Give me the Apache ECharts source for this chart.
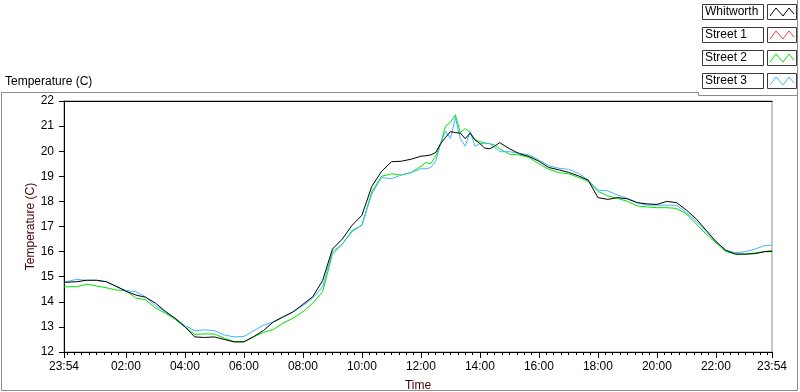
<!DOCTYPE html>
<html>
<head>
<meta charset="utf-8">
<script src="https://cdn.jsdelivr.net/npm/echarts@6/dist/echarts.min.js"></script>
<style>
html, body { margin: 0; padding: 0; background: #fff; }
#chart { width: 800px; height: 392px; }
</style>
</head>
<body>
<div id="chart"></div>
<script>
// series names / colours
var names = ['Whitworth', 'Street 1', 'Street 2', 'Street 3'];
var colors = ['#000000', '#ff3b3b', '#00e600', '#3db8ff'];

// minutes after midnight (23:54 of the day before = -6)
var minutes = [-6, 0, 20, 40, 60, 80, 100, 120, 140, 160, 180, 200, 220, 240, 260, 280, 300,
  320, 340, 360, 380, 400, 420, 440, 460, 480, 500, 520, 540, 560, 580, 600, 620, 640, 660,
  680, 700, 720, 730, 740, 750, 760, 770, 780, 790, 800, 810, 820, 830, 840, 850, 860, 870,
  880, 900, 920, 940, 960, 980, 1000, 1020, 1040, 1060, 1080, 1100, 1120, 1140, 1160, 1180,
  1200, 1220, 1240, 1260, 1280, 1300, 1320, 1340, 1360, 1380, 1400, 1420, 1434];

var whitworth = [14.78, 14.78, 14.8, 14.86, 14.86, 14.8, 14.62, 14.42, 14.27, 14.18, 13.95,
  13.62, 13.34, 13.0, 12.6, 12.58, 12.6, 12.5, 12.4, 12.4, 12.62, 12.86, 13.2, 13.4, 13.6,
  13.9, 14.2, 14.85, 16.1, 16.5, 17.05, 17.45, 18.6, 19.2, 19.58, 19.6, 19.68, 19.8, 19.82,
  19.85, 19.95, 20.3, 20.55, 20.78, 20.74, 20.72, 20.5, 20.72, 20.45, 20.3, 20.12, 20.1,
  20.2, 20.34, 20.1, 19.9, 19.79, 19.6, 19.35, 19.26, 19.16, 19.02, 18.85, 18.15, 18.08,
  18.15, 18.1, 17.95, 17.9, 17.88, 18.0, 17.95, 17.65, 17.3, 16.85, 16.4, 16.05, 15.9, 15.9,
  15.92, 16.0, 16.0];

var street1 = [];

var street2 = [14.6, 14.6, 14.6, 14.7, 14.63, 14.56, 14.47, 14.45, 14.15, 14.08, 13.75,
  13.55, 13.3, 13.0, 12.7, 12.72, 12.72, 12.55, 12.42, 12.42, 12.6, 12.78, 12.9, 13.15,
  13.35, 13.6, 13.95, 14.4, 15.9, 16.3, 16.8, 17.06, 18.39, 19.0, 19.1, 19.05, 19.15, 19.4,
  19.55, 19.5, 19.8, 20.3, 21.0, 21.15, 21.45, 20.75, 20.9, 20.75, 20.45, 20.38, 20.33,
  20.3, 20.25, 20.1, 19.88, 19.85, 19.75, 19.5, 19.28, 19.15, 19.1, 18.96, 18.8, 18.4,
  18.22, 18.12, 18.0, 17.82, 17.78, 17.75, 17.75, 17.72, 17.5, 17.1, 16.7, 16.35, 16.0,
  15.9, 15.9, 15.95, 16.0, 16.05];

var street3 = [14.75, 14.8, 14.9, 14.85, 14.85, 14.8, 14.62, 14.45, 14.4, 14.2, 13.85,
  13.6, 13.35, 13.05, 12.85, 12.88, 12.85, 12.68, 12.6, 12.62, 12.85, 13.07, 13.2, 13.4,
  13.6, 13.85, 14.15, 14.6, 16.0, 16.3, 16.85, 17.05, 18.3, 18.95, 18.9, 19.05, 19.15, 19.3,
  19.3, 19.35, 19.6, 20.3, 20.8, 20.5, 21.35, 20.5, 20.2, 20.78, 20.2, 20.3, 20.3, 20.31,
  20.15, 19.98, 19.98, 19.92, 19.85, 19.65, 19.42, 19.32, 19.28, 19.12, 18.85, 18.45,
  18.42, 18.25, 18.12, 17.95, 17.85, 17.85, 17.85, 17.85, 17.55, 17.2, 16.8, 16.4, 16.05,
  15.95, 16.0, 16.1, 16.25, 16.25];

// labelled time ticks (minutes)
var majorTicks = [-6, 120, 240, 360, 480, 600, 720, 840, 960, 1080, 1200, 1320, 1434];
var minorTicks = [];
for (var t = 0; t < 1434; t += 15) minorTicks.push(t);

function pairs(vals) {
    return vals.map(function (v, i) { return [minutes[i], v]; });
}

function hhmm(m) {
    if (m < 0) m += 1440;
    var h = Math.floor(m / 60), mm = m % 60;
    return (h < 10 ? '0' : '') + h + ':' + (mm < 10 ? '0' : '') + mm;
}

var font = 'Liberation Sans';
var seriesData = [whitworth, street1, street2, street3];

var series = names.map(function (n, i) {
    return {
        name: n,
        type: 'line',
        xAxisIndex: 0,
        yAxisIndex: 0,
        showSymbol: false,
        symbol: 'none',
        z: i === 0 ? 5 : 2 + i * 0.1,
        lineStyle: { width: 1, color: colors[i] },
        itemStyle: { color: colors[i] },
        data: pairs(seriesData[i])
    };
});

// legend drawn as LabVIEW-like boxes
var legendEls = [];
names.forEach(function (n, i) {
    var y = 4 + i * 23;
    legendEls.push({
        type: 'rect', shape: { x: 702.5, y: y + 0.5, width: 61, height: 15 },
        style: { fill: '#fff', stroke: '#3a3a3a', lineWidth: 1 }
    });
    legendEls.push({
        type: 'text', x: 705, y: y + 8,
        style: { text: n, fill: '#000', font: '12px "' + font + '"', verticalAlign: 'middle' }
    });
    legendEls.push({
        type: 'rect', shape: { x: 767.5, y: y + 0.5, width: 29, height: 15 },
        style: { fill: '#fff', stroke: '#3a3a3a', lineWidth: 1 }
    });
    legendEls.push({
        type: 'polyline',
        shape: { points: [[770, y + 12], [776, y + 4], [783, y + 12], [789, y + 4], [794, y + 10]] },
        style: { stroke: colors[i], lineWidth: 1, fill: null }
    });
});

var gridBox = { left: 64, right: 28, top: 101, bottom: 40, outerBoundsMode: 'none', containLabel: false };

var chart = echarts.init(document.getElementById('chart'), null, { renderer: 'canvas' });
chart.setOption({
    animation: false,
    backgroundColor: '#fff',
    textStyle: { fontFamily: font },
    grid: [
        Object.assign({ show: true, borderColor: '#8c8c8c', borderWidth: 1, backgroundColor: '#fff' }, gridBox),
        Object.assign({ show: false }, gridBox)
    ],
    xAxis: [
        {
            type: 'value', gridIndex: 0, min: -6, max: 1434, position: 'bottom',
            name: 'Time', nameLocation: 'middle', nameGap: 28, nameMoveOverlap: false,
            nameTextStyle: { color: '#4a0000', fontSize: 12, fontFamily: font },
            axisLine: { show: true, onZero: false, lineStyle: { color: '#000', width: 1 } },
            axisTick: { show: true, customValues: majorTicks, length: 6, lineStyle: { color: '#000' } },
            axisLabel: {
                customValues: majorTicks, margin: 9, color: '#000', fontSize: 12, fontFamily: font,
                formatter: function (v) { return hhmm(v); }
            },
            splitLine: { show: false }
        },
        {
            type: 'value', gridIndex: 0, min: -6, max: 1434, position: 'top',
            axisLine: { show: true, onZero: false, lineStyle: { color: '#000', width: 1 } },
            axisTick: { show: false }, axisLabel: { show: false }, splitLine: { show: false }
        },
        {
            type: 'value', gridIndex: 1, min: -6, max: 1434, position: 'bottom',
            axisLine: { show: false },
            axisTick: { show: true, customValues: minorTicks, length: 3, lineStyle: { color: '#000' } },
            axisLabel: { show: false }, splitLine: { show: false }
        }
    ],
    yAxis: [
        {
            type: 'value', gridIndex: 0, min: 12, max: 22, interval: 1,
            name: 'Temperature (C)', nameLocation: 'middle', nameGap: 27, nameMoveOverlap: false,
            nameTextStyle: { color: '#4a0000', fontSize: 12, fontFamily: font },
            axisLine: { show: true, onZero: false, lineStyle: { color: '#000', width: 1 } },
            axisTick: { show: true, length: 5, lineStyle: { color: '#000' } },
            axisLabel: { margin: 10, color: '#000', fontSize: 12, fontFamily: font },
            splitLine: { show: false }
        },
        {
            type: 'value', gridIndex: 1, min: 12, max: 22, show: false
        }
    ],
    series: series,
    graphic: [
        {
            type: 'polyline', silent: true,
            shape: { points: [[797.5, 0], [797.5, 390.5], [1.5, 390.5], [1.5, 92.5], [698.5, 92.5], [698.5, 95.5], [797.5, 95.5]] },
            style: { stroke: '#8c8c8c', lineWidth: 1, fill: null }
        },
        {
            type: 'text', x: 5, y: 82,
            style: { text: 'Temperature (C)', fill: '#000', font: '12px "' + font + '"', verticalAlign: 'middle' }
        }
    ].concat(legendEls)
});
</script>
</body>
</html>
